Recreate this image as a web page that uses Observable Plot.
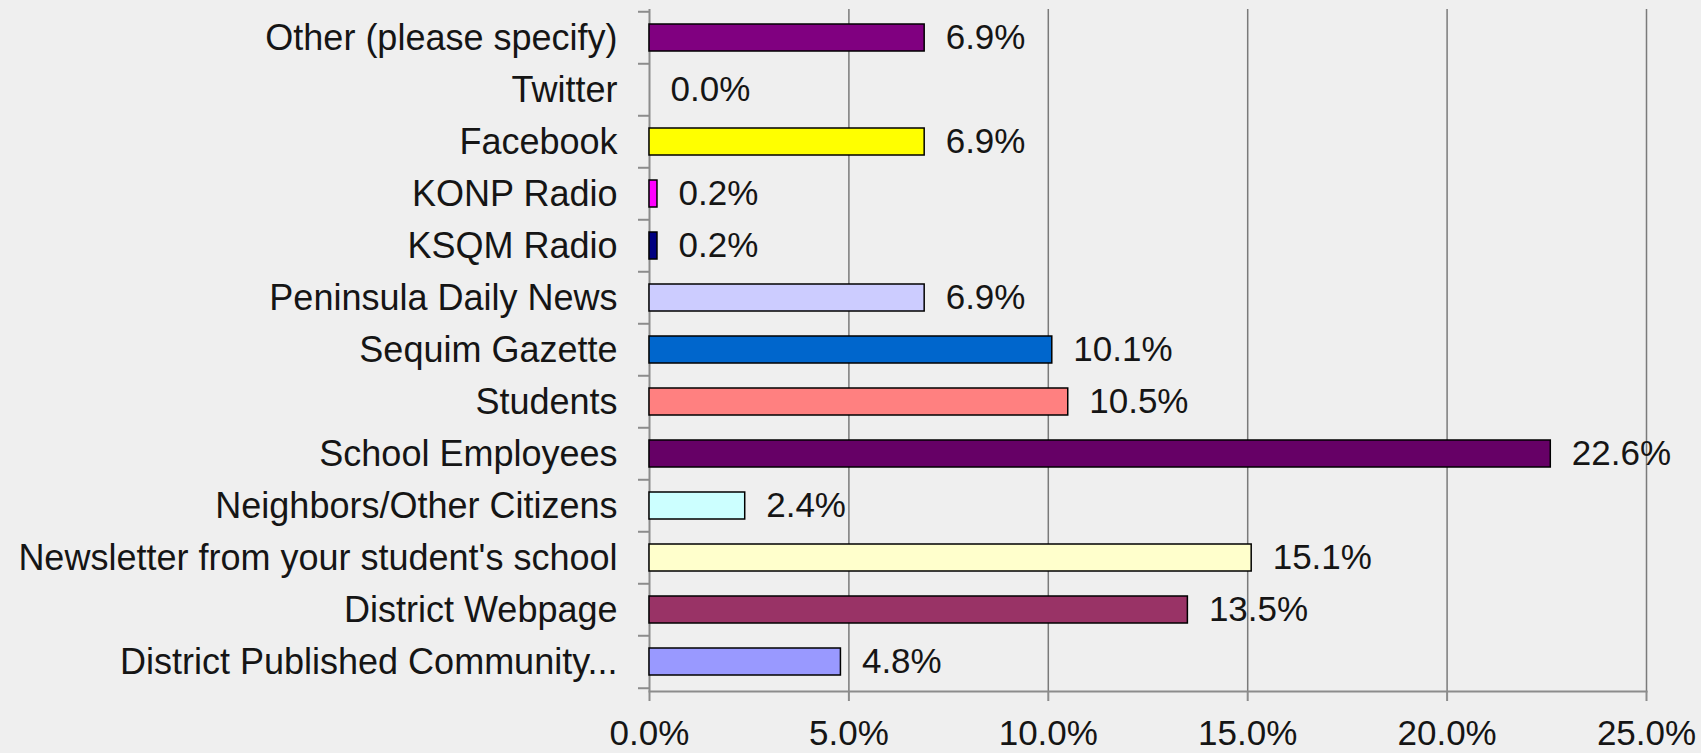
<!DOCTYPE html>
<html>
<head>
<meta charset="utf-8">
<script src="https://cdn.jsdelivr.net/npm/d3@7"></script>
<script src="https://cdn.jsdelivr.net/npm/@observablehq/plot@0.6"></script>
<style>
  html, body { margin: 0; padding: 0; background: #efefef; }
  #chart { width: 1701px; height: 753px; }
</style>
</head>
<body>
<div id="chart"></div>
<script>
const categories = [
  "Other (please specify)",
  "Twitter",
  "Facebook",
  "KONP Radio",
  "KSQM Radio",
  "Peninsula Daily News",
  "Sequim Gazette",
  "Students",
  "School Employees",
  "Neighbors/Other Citizens",
  "Newsletter from your student's school",
  "District Webpage",
  "District Published Community..."
];
const values = [6.9, 0.0, 6.9, 0.2, 0.2, 6.9, 10.1, 10.5, 22.6, 2.4, 15.1, 13.5, 4.8];
const colors = [
  "#800080", "#000000", "#ffff00", "#ff00ff", "#000080", "#ccccff",
  "#0066cc", "#ff8080", "#660066", "#ccffff", "#ffffcc", "#993366", "#9999ff"
];
const xTicks = [0, 5, 10, 15, 20, 25];

const data = categories.map((c, i) => ({category: c, value: values[i], color: colors[i]}));

const width = 1701, height = 753;
const marginTop = 9, marginBottom = 62, marginLeft = 649, marginRight = 55;
const step = (height - marginTop - marginBottom) / categories.length;
const fmt = d => d.toFixed(1) + "%";
const axisStroke = {stroke: "#8c8c8c", strokeWidth: 2, strokeOpacity: 1};

const chart = Plot.plot({
  width, height, marginTop, marginBottom, marginLeft, marginRight,
  style: {background: "#efefef", fontFamily: "'Liberation Sans', Arial, sans-serif", fontSize: "36px", color: "#151515"},
  x: {domain: [0, 25], label: null},
  y: {domain: categories, paddingInner: 0.48, paddingOuter: 0.24, label: null},
  color: {type: "identity"},
  marks: [
    Plot.ruleX(xTicks.slice(1), {stroke: "#7a7a7a", strokeWidth: 1.5, strokeOpacity: 1}),
    Plot.ruleX([0], axisStroke),
    Plot.frame({anchor: "bottom", ...axisStroke}),
    Plot.axisY(categories, {tickSize: 11, text: null, dy: -step / 2, ...axisStroke}),
    Plot.axisY(categories.slice(-1), {tickSize: 11, text: null, dy: step / 2, ...axisStroke}),
    Plot.axisY(categories, {tickSize: 0, tickPadding: 32, fontSize: 36, label: null}),
    Plot.axisX(xTicks, {tickSize: 10, tickPadding: 19, tickFormat: fmt, fontSize: 35, label: null, ...axisStroke}),
    Plot.barX(data.filter(d => d.value > 0), {x: "value", y: "category", fill: "color", stroke: "#000", strokeWidth: 1.5}),
    Plot.text(data, {x: "value", y: "category", text: d => fmt(d.value), textAnchor: "start", dx: 21, fontSize: 35, fill: "#151515"})
  ]
});
document.getElementById("chart").appendChild(chart);
</script>
</body>
</html>
